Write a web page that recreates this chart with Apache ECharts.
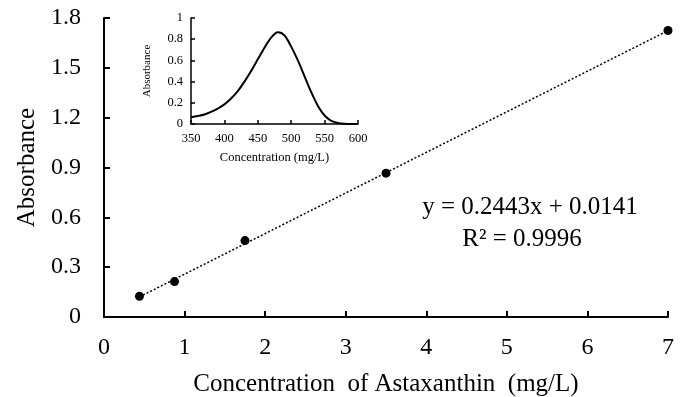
<!DOCTYPE html>
<html>
<head>
<meta charset="utf-8">
<script src="https://cdn.jsdelivr.net/npm/echarts@6/dist/echarts.min.js"></script>
<style>
  html, body { margin: 0; padding: 0; background: #fff; }
  #chart { width: 686px; height: 397px; }
</style>
</head>
<body>
<div id="chart"></div>
<script>
// calibration points (mg/L, absorbance)
const concX = [0.44, 0.875, 1.75, 3.5, 7.0];
const absY = [0.125, 0.213, 0.46, 0.866, 1.725];
// dotted fit line endpoints as drawn
const fitX = [0.44, 7.0];
const fitY = [0.121, 1.724];
// inset spectrum
const waveX = [350, 360, 370, 380, 390, 400, 410, 420, 430, 440, 450, 460, 470, 480, 490, 500, 510, 520, 530, 540, 550, 560, 570, 580, 590, 600];
const spectY = [0.063, 0.075, 0.09, 0.115, 0.145, 0.185, 0.24, 0.31, 0.4, 0.5, 0.61, 0.72, 0.815, 0.865, 0.835, 0.73, 0.6, 0.45, 0.3, 0.17, 0.08, 0.03, 0.01, 0.002, 0, 0];
const equation = 'y = 0.2443x + 0.0141';
const rSquared = 'R² = 0.9996';

const font = '"Liberation Serif", "Times New Roman", serif';
const black = '#000';

const chart = echarts.init(document.getElementById('chart'));

const axisCommon = {
  axisLine: { show: true, lineStyle: { color: black, width: 2 } },
  axisTick: { show: true, inside: true, lineStyle: { color: black, width: 2 } },
  splitLine: { show: false },
};

chart.setOption({
  animation: false,
  grid: [
    { left: 104, right: 18, top: 18, bottom: 80, outerBoundsMode: 'none' },
    { left: 191, right: 328, top: 18, bottom: 273, outerBoundsMode: 'none' },
  ],
  xAxis: [
    {
      ...axisCommon, gridIndex: 0, type: 'value', min: 0, max: 7, interval: 1,
      axisTick: { ...axisCommon.axisTick, length: 6 },
      axisLabel: { color: black, fontFamily: font, fontSize: 24, margin: 19 },
      name: 'Concentration  of Astaxanthin  (mg/L)', nameLocation: 'middle', nameGap: 55,
      nameTextStyle: { color: black, fontFamily: font, fontSize: 25 },
    },
    {
      ...axisCommon, gridIndex: 1, type: 'value', min: 350, max: 600, interval: 50,
      axisLine: { show: true, lineStyle: { color: black, width: 1.5 } },
      axisTick: { ...axisCommon.axisTick, length: 4, lineStyle: { color: black, width: 1.5 } },
      axisLabel: { color: black, fontFamily: font, fontSize: 12.5, margin: 8 },
      name: 'Concentration (mg/L)', nameLocation: 'middle', nameGap: 27,
      nameTextStyle: { color: black, fontFamily: font, fontSize: 12.5 },
    },
  ],
  yAxis: [
    {
      ...axisCommon, gridIndex: 0, type: 'value', min: 0, max: 1.8, interval: 0.3,
      axisTick: { ...axisCommon.axisTick, length: 6 },
      axisLabel: { color: black, fontFamily: font, fontSize: 24, margin: 23, formatter: v => v === 0 ? '0' : v.toFixed(1) },
      name: 'Absorbance', nameLocation: 'middle', nameGap: 64,
      nameTextStyle: { color: black, fontFamily: font, fontSize: 25 },
    },
    {
      ...axisCommon, gridIndex: 1, type: 'value', min: 0, max: 1, interval: 0.2,
      axisLine: { show: true, lineStyle: { color: black, width: 1.5 } },
      axisTick: { ...axisCommon.axisTick, length: 4, lineStyle: { color: black, width: 1.5 } },
      axisLabel: { color: black, fontFamily: font, fontSize: 12.5, margin: 8, formatter: v => String(+v.toFixed(1)) },
      name: 'Absorbance', nameLocation: 'middle', nameGap: 38,
      nameTextStyle: { color: black, fontFamily: font, fontSize: 11 },
    },
  ],
  series: [
    {
      type: 'line', xAxisIndex: 0, yAxisIndex: 0,
      data: fitX.map((x, i) => [x, fitY[i]]),
      showSymbol: false, lineStyle: { color: black, width: 1.5, type: [2, 2] },
    },
    {
      type: 'scatter', xAxisIndex: 0, yAxisIndex: 0,
      data: concX.map((x, i) => [x, absY[i]]),
      symbolSize: 9, itemStyle: { color: black, opacity: 1 },
    },
    {
      type: 'line', xAxisIndex: 1, yAxisIndex: 1,
      data: waveX.map((x, i) => [x, spectY[i]]),
      smooth: 0.3, showSymbol: false, lineStyle: { color: black, width: 2 },
    },
  ],
  graphic: [
    { type: 'text', x: 530, y: 207, style: { text: equation, fill: black, font: '25px ' + font, textAlign: 'center', textVerticalAlign: 'middle' } },
    { type: 'text', x: 522, y: 239, style: { text: rSquared, fill: black, font: '25px ' + font, textAlign: 'center', textVerticalAlign: 'middle' } },
  ],
});
</script>
</body>
</html>
